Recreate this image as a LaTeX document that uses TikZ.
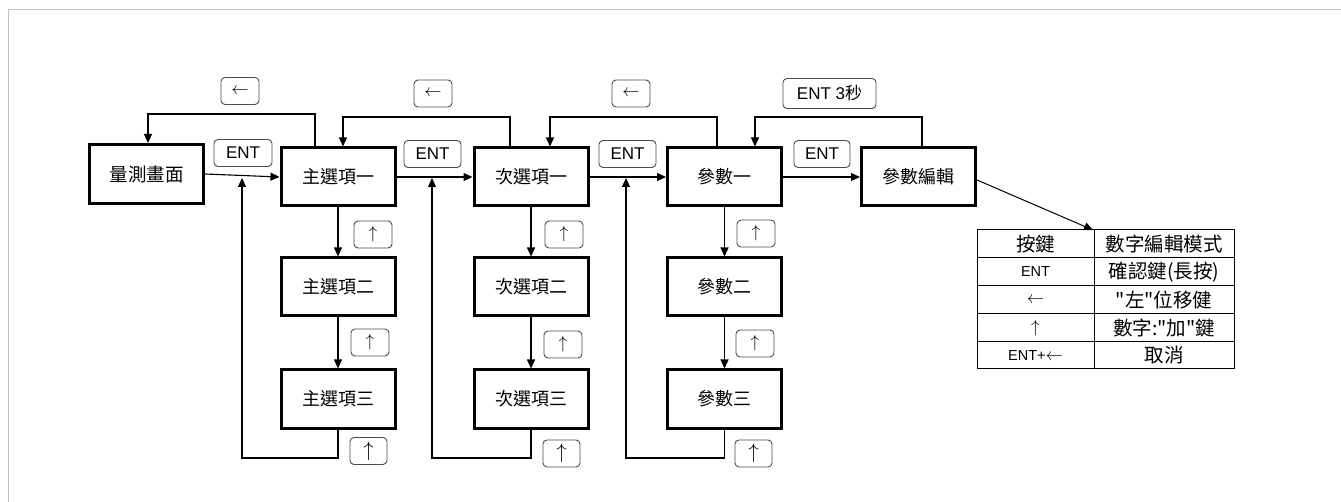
\documentclass[tikz,border=0pt]{standalone}
\usepackage{fontspec}
\setmainfont{Liberation Sans}
\newfontfamily\cjk{Noto Sans CJK TC}
\usetikzlibrary{arrows.meta}
\begin{document}
\begin{tikzpicture}[x=1pt,y=-1pt,
  box/.style={draw, line width=3pt, minimum width=114pt, minimum height=58pt, inner sep=0pt, font=\cjk\fontsize{18}{20}\selectfont},
  keybox/.style={draw=black!70, line width=0.9pt, rounded corners=4pt, minimum height=27pt, inner sep=0pt, font=\fontsize{17}{19}\selectfont},
  conn/.style={line width=1.1pt, -{Triangle[length=9pt,width=8pt]}},
  tcell/.style={inner sep=0pt, font=\cjk\fontsize{19.5}{21}\selectfont},
  tlat/.style={inner sep=0pt, font=\fontsize{14.5}{16}\selectfont}
]
\useasboundingbox (0,0) rectangle (1341,502);
\draw[black!25, line width=0.8pt] (8,502) -- (8,9) -- (1341,9);

% main boxes
\node[box, minimum height=59pt, font=\cjk\fontsize{18.5}{20}\selectfont] (m0) at (146.5,174) {量測畫面};
\node[box] (a1) at (338,177) {主選項一};
\node[box] (a2) at (338,287) {主選項二};
\node[box] (a3) at (338,399) {主選項三};
\node[box] (b1) at (531,177) {次選項一};
\node[box] (b2) at (531,287) {次選項二};
\node[box] (b3) at (531,399) {次選項三};
\node[box] (c1) at (724.5,177) {參數一};
\node[box] (c2) at (724.5,287) {參數二};
\node[box] (c3) at (724.5,399) {參數三};
\node[box] (d) at (918.5,177) {參數編輯};

% key labels
\node[keybox, minimum width=58pt] (e1) at (243,153) {ENT};
\node[keybox, minimum width=57pt] (e2) at (432.5,154) {ENT};
\node[keybox, minimum width=57pt] (e3) at (627.5,154) {ENT};
\node[keybox, minimum width=56pt] (e4) at (822,154) {ENT};
\node[keybox, minimum width=38pt, font=\fontsize{19}{19}\selectfont] (k1) at (240,91) {$\leftarrow$};
\node[keybox, minimum width=38pt, font=\fontsize{19}{19}\selectfont] (k2) at (433,93.5) {$\leftarrow$};
\node[keybox, minimum width=38pt, font=\fontsize{19}{19}\selectfont] (k3) at (631,93.5) {$\leftarrow$};
\node[keybox, minimum width=93pt, minimum height=30pt] (k4) at (829.5,93.5) {ENT 3{\cjk 秒}};

\tikzset{upk/.style={keybox, minimum width=38pt, font=\fontsize{18}{18}\selectfont},
         upkb/.style={keybox, minimum width=37pt, font=\fontsize{22}{22}\selectfont}}
\node[upk] (ua1) at (373,234.5) {$\uparrow$};
\node[upk] (ua2) at (370,342.5) {$\uparrow$};
\node[upkb] (ua3) at (368.5,451) {$\uparrow$};
\node[upk] (ub1) at (564,234.5) {$\uparrow$};
\node[upk] (ub2) at (563,344.5) {$\uparrow$};
\node[upkb] (ub3) at (561.5,453.5) {$\uparrow$};
\node[upk] (uc1) at (756,233.5) {$\uparrow$};
\node[upk] (uc2) at (755,343.5) {$\uparrow$};
\node[upkb] (uc3) at (753.5,453.5) {$\uparrow$};

% horizontal arrows
\draw[conn] (m0.east) -- (a1.west);
\draw[conn] (a1.east) -- (b1.west);
\draw[conn] (b1.east) -- (c1.west);
\draw[conn] (c1.east) -- (d.west);

% vertical arrows
\draw[conn] (a1.south) -- (a2.north);
\draw[conn] (a2.south) -- (a3.north);
\draw[conn] (b1.south) -- (b2.north);
\draw[conn] (b2.south) -- (b3.north);
\draw[conn] (c1.south) -- (c2.north);
\draw[conn] (c2.south) -- (c3.north);

% return loops (bottom)
\coordinate (ja) at (242,178);
\coordinate (la) at (242,458);
\coordinate (jb) at (432,178);
\coordinate (lb) at (432,458);
\coordinate (jc) at (626,178);
\coordinate (lc) at (626,458);
\draw[conn] (a3.south) |- (la) -- (ja);
\draw[conn] (b3.south) |- (lb) -- (jb);
\draw[conn] (c3.south) |- (lc) -- (jc);

% back loops (top)
\coordinate (t1) at (315,114);
\coordinate (u1) at (148,114);
\coordinate (t2) at (510,117);
\coordinate (u2) at (343,117);
\coordinate (t3) at (717,117);
\coordinate (u3) at (550,117);
\coordinate (t4) at (922,117);
\coordinate (u4) at (755,117);
\draw[conn] (a1.north -| t1) -- (t1) -- (u1) -- (m0.north -| u1);
\draw[conn] (b1.north -| t2) -- (t2) -- (u2) -- (a1.north -| u2);
\draw[conn] (c1.north -| t3) -- (t3) -- (u3) -- (b1.north -| u3);
\draw[conn] (d.north -| t4) -- (t4) -- (u4) -- (c1.north -| u4);

% table
\coordinate (tt) at (1093,230);
\draw[line width=1pt] (977,230) rectangle (1234,369);
\foreach \yy in {258,286,314,342} \draw[line width=1pt] (977,\yy) -- (1234,\yy);
\draw[line width=1pt] (1094,230) -- (1094,369);
\draw[conn, line width=1pt] ([yshift=-3pt]d.east) -- (tt);

\node[tcell] (h1) at (1035.5,244) {按鍵};
\node[tcell] (h2) at (1164,244) {數字編輯模式};
\node[tlat] (r1a) at (1035.5,272) {ENT};
\node[tcell] (r1b) at (1164,272) {確認鍵(長按)};
\node[tlat, font=\fontsize{18}{18}\selectfont] (r2a) at (1035.5,300) {$\leftarrow$};
\node[tcell] (r2b) at (1164,300) {"左"位移健};
\node[tlat, font=\fontsize{18}{18}\selectfont] (r3a) at (1035.5,328) {$\uparrow$};
\node[tcell] (r3b) at (1164,328) {數字:"加"鍵};
\node[tlat] (r4a) at (1035.5,355.5) {ENT+{\fontsize{17}{17}\selectfont$\leftarrow$}};
\node[tcell] (r4b) at (1164,355.5) {取消};
\end{tikzpicture}
\end{document}
